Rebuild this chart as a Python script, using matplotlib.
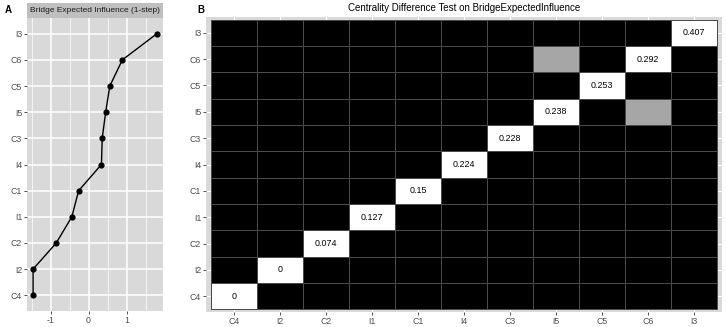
import matplotlib.pyplot as plt
import numpy as np
from matplotlib.colors import ListedColormap

plt.rcParams['font.family'] = ['Liberation Sans', 'DejaVu Sans']

# node order (bottom -> top / left -> right)
nodes = ['C4', 'I2', 'C2', 'I1', 'C1', 'I4', 'C3', 'I5', 'C5', 'C6', 'I3']
# standardized bridge expected influence (panel A)
bei = [-1.46, -1.46, -0.85, -0.44, -0.26, 0.34, 0.36, 0.45, 0.56, 0.89, 1.80]
# raw values shown on the diagonal (panel B)
diag_labels = ['0', '0', '0.074', '0.127', '0.15', '0.224', '0.228', '0.238', '0.253', '0.292', '0.407']
# pairs that are NOT significantly different (grey cells)
nonsig_pairs = [('I5', 'C6')]

W, H = 726, 327
fig = plt.figure(figsize=(W / 100, H / 100), dpi=100)

def box(l, t, r, b):
    return [l / W, 1 - b / H, (r - l) / W, (b - t) / H]

bg = '#d9d9d9'
tick_col = '#4d4d4d'

# ---- panel A ----
axA = fig.add_axes(box(27, 18, 163, 311))
axA.set_facecolor(bg)
y = np.arange(len(nodes))
axA.set_xlim(-1.62, 1.96)
axA.set_ylim(-0.6, len(nodes) - 0.4)
for v in [-1.5, -0.5, 0.5, 1.5]:
    axA.axvline(v, color='white', lw=0.5, zorder=0)
for v in [-1, 0, 1]:
    axA.axvline(v, color='white', lw=1.1, zorder=0)
for v in y:
    axA.axhline(v, color='white', lw=1.1, zorder=0)
axA.plot(bei, y, color='black', lw=1.0, zorder=2)
axA.scatter(bei, y, s=12, color='black', zorder=3)
axA.set_yticks(y)
axA.set_yticklabels(nodes)
axA.set_xticks([-1, 0, 1])
axA.set_xticklabels(['-1', '0', '1'])
axA.tick_params(length=2.5, width=0.6, color='#333333', labelsize=6.3, labelcolor=tick_col, pad=1)
for s in axA.spines.values():
    s.set_visible(False)

stripA = fig.add_axes(box(27, 3, 163, 18))
stripA.set_facecolor('#bfbfbf')
stripA.set_xticks([])
stripA.set_yticks([])
for s in stripA.spines.values():
    s.set_visible(False)
stripA.text(0.5, 0.5, 'Bridge Expected Influence (1-step)', ha='center', va='center',
            fontsize=6.0, color='#1a1a1a', transform=stripA.transAxes)

# ---- panel B ----
n = len(nodes)
mat = np.zeros((n, n))
for i in range(n):
    mat[i, i] = 2
for a, b in nonsig_pairs:
    ia, ib = nodes.index(a), nodes.index(b)
    mat[ia, ib] = 1
    mat[ib, ia] = 1

axB = fig.add_axes(box(206, 17, 722, 312))
axB.set_facecolor(bg)
for v in range(n):
    axB.axvline(v, color='white', lw=0.8, zorder=0)
    axB.axhline(v, color='white', lw=0.8, zorder=0)
cmap = ListedColormap(['black', '#a6a6a6', 'white'])
edges = np.arange(n + 1) - 0.5
axB.pcolormesh(edges, edges, mat, cmap=cmap, vmin=0, vmax=2,
               edgecolors='#4a4a4a', linewidth=0.4, zorder=1)
for i in range(n):
    axB.text(i, i, diag_labels[i], ha='center', va='center', fontsize=6.4, color='black', zorder=2)
axB.set_xlim(-0.6, n - 0.4)
axB.set_ylim(-0.6, n - 0.4)
axB.set_xticks(range(n))
axB.set_xticklabels(nodes)
axB.set_yticks(range(n))
axB.set_yticklabels(nodes)
axB.tick_params(length=2.5, width=0.6, color='#333333', labelsize=6.3, labelcolor=tick_col, pad=1)
for s in axB.spines.values():
    s.set_visible(False)
axB.set_title('Centrality Difference Test on BridgeExpectedInfluence', fontsize=7, pad=4)

fig.text(5 / W, 1 - 10 / H, 'A', fontsize=7, fontweight='bold', va='center')
fig.text(197 / W, 1 - 10 / H, 'B', fontsize=7, fontweight='bold', va='center')

fig.savefig('out.png', dpi=100)
